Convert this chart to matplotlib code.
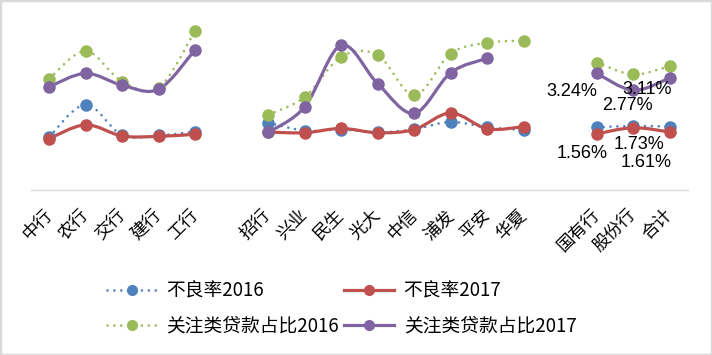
import numpy as np
import matplotlib
matplotlib.use("Agg")
import matplotlib.pyplot as plt
from matplotlib.path import Path
from matplotlib.patches import PathPatch, Rectangle
from matplotlib.lines import Line2D

plt.rcParams['font.family'] = ['Noto Sans CJK SC', 'DejaVu Sans']

# ==============================
# DATA (%), None = gap between groups / missing
# ==============================

categories = ["中行", "农行", "交行", "建行", "工行", "",
              "招行", "兴业", "民生", "光大", "中信", "浦发", "平安", "华夏", "",
              "国有行", "股份行", "合计"]

npl_2016 = [1.48, 2.37, 1.52, 1.52, 1.62, None,
            1.87, 1.65, 1.68, 1.60, 1.69, 1.89, 1.74, 1.67, None,
            1.74, 1.78, 1.76]
npl_2017 = [1.43, 1.81, 1.50, 1.49, 1.55, None,
            1.61, 1.59, 1.71, 1.59, 1.68, 2.14, 1.70, 1.76, None,
            1.56, 1.73, 1.61]
sm_2016 = [3.09, 3.86, 3.01, 2.84, 4.43, None,
           2.09, 2.58, 3.70, 3.75, 2.63, 3.79, 4.09, 4.15, None,
           3.54, 3.21, 3.44]
sm_2017 = [2.87, 3.24, 2.91, 2.80, 3.90, None,
           1.60, 2.31, 4.02, 2.95, 2.13, 3.26, 3.66, None, None,
           3.24, 2.77, 3.11]

series_names = ["不良率2016", "不良率2017", "关注类贷款占比2016", "关注类贷款占比2017"]
series_values = [npl_2016, npl_2017, sm_2016, sm_2017]

# ==============================
# STYLE
# ==============================

colors = ["#4F81BD", "#C0504D", "#9BBB59", "#8064A2"]
dotted = (0, (0.01, 2.6))
styles = [dotted, "-", dotted, "-"]
widths = [1.9, 2.3, 1.9, 2.3]

# data labels on the summary group: (series index, category index, dx, dy in px)
label_spots = [(3, 15, -25, -18), (3, 16, -6, -15), (3, 17, -23, -11),
               (1, 15, -15, -20), (1, 16, 6, -17), (1, 17, -24, -30)]


def smooth_path(xs, ys):
    pts = np.column_stack([xs, ys]).astype(float)
    n = len(pts)
    verts = [pts[0]]
    codes = [Path.MOVETO]
    for i in range(n - 1):
        p0 = pts[max(i - 1, 0)]
        p1 = pts[i]
        p2 = pts[i + 1]
        p3 = pts[min(i + 2, n - 1)]
        verts += [p1 + (p2 - p0) / 6, p2 - (p3 - p1) / 6, p2]
        codes += [Path.CURVE4] * 3
    return Path(verts, codes)


def runs(values):
    out, cur = [], []
    for i, v in enumerate(values):
        if v is None:
            if cur:
                out.append(cur)
            cur = []
        else:
            cur.append(i)
    if cur:
        out.append(cur)
    return out


fig = plt.figure(figsize=(7.12, 3.55), dpi=100)
ax = fig.add_axes([31 / 712, 165 / 355, 657 / 712, 180 / 355])

for vals, c, ls, lw in zip(series_values, colors, styles, widths):
    for idx in runs(vals):
        ys = [vals[i] for i in idx]
        patch = PathPatch(smooth_path(idx, ys), fill=False, edgecolor=c,
                          linewidth=lw, linestyle=ls, capstyle="round")
        ax.add_patch(patch)
        ax.plot(idx, ys, "o", color=c, markersize=8, zorder=3)

for s, i, dx, dy in label_spots:
    v = series_values[s][i]
    ax.annotate(f"{v:.2f}%", (i, v), xytext=(dx, dy), textcoords="offset pixels",
                ha="center", va="center", fontsize=13, family="Liberation Sans",
                color="#000000", zorder=5)

ax.set_xlim(-0.5, len(categories) - 0.5)
ax.set_ylim(0, 5)
ax.set_xticks(range(len(categories)))
ax.set_xticklabels(categories, rotation=45, ha="right", va="center",
                   rotation_mode="anchor", fontsize=12.5)
ax.tick_params(axis="x", length=0, pad=16)
ax.set_yticks([])
for side in ["top", "left", "right"]:
    ax.spines[side].set_visible(False)
ax.spines["bottom"].set_color("#d9d9d9")
ax.spines["bottom"].set_linewidth(1)

handles = []
for c, ls, lw in zip(colors, styles, widths):
    handles.append(Line2D([], [], color=c, linestyle=ls, linewidth=lw,
                          dash_capstyle="round", marker="o", markersize=7))
# legend fills column by column; reorder so rows read 2016/2017 side by side
order = [0, 2, 1, 3]
fig.legend([handles[k] for k in order], [series_names[k] for k in order],
           ncol=2, loc="center", bbox_to_anchor=(0.48, 0.131),
           frameon=False, fontsize=13.5, handlelength=2.67, handletextpad=0.5,
           columnspacing=0.27, labelspacing=0.75)

fig.add_artist(Rectangle((0, 0), 1, 1, transform=fig.transFigure, fill=False,
                         edgecolor="#d9d9d9", linewidth=2.5))

fig.savefig("out.png", dpi=100)
